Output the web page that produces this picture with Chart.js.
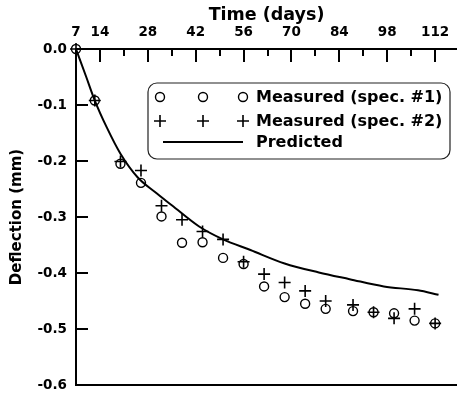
<!DOCTYPE html>
<html><head><meta charset="utf-8">
<script src="https://cdn.jsdelivr.net/npm/chart.js@4/dist/chart.umd.min.js"></script>
<style>html,body{margin:0;padding:0;background:#fff;overflow:hidden}#wrap{width:457px;height:394px;position:relative}</style>
</head><body><div id="wrap"><canvas id="c" width="457" height="394"></canvas></div>
<script>
// ---- data ----
const daysMeasured = [7,12.5,20,26,32,38,44,50,56,62,68,74,80,88,94,100,106,112];
const spec1 = [0,-0.092,-0.205,-0.239,-0.299,-0.346,-0.345,-0.373,-0.384,-0.424,-0.443,-0.455,-0.464,-0.468,-0.470,-0.472,-0.485,-0.490];
const spec2 = [0,-0.092,-0.201,-0.217,-0.280,-0.305,-0.326,-0.340,-0.380,-0.402,-0.417,-0.432,-0.450,-0.457,-0.470,-0.481,-0.464,-0.490];
const daysPredicted = [7,10,12.5,16,20,25,30,35,43,50,58,68,78,87,97,107,113];
const predicted = [0,-0.050,-0.092,-0.140,-0.187,-0.229,-0.255,-0.279,-0.317,-0.340,-0.359,-0.383,-0.399,-0.411,-0.424,-0.431,-0.439];
const xTickValues = [7,14,21,28,35,42,49,56,63,70,77,84,91,98,105,112];
const xLabelled = [7,14,28,42,56,70,84,98,112];
const yTickValues = [0,-0.1,-0.2,-0.3,-0.4,-0.5,-0.6];
const seriesLabels = ['Measured (spec. #1)','Measured (spec. #2)','Predicted'];
const xTitle = 'Time (days)';
const yTitle = 'Deflection (mm)';

const FONT = "'DejaVu Sans'";
const pts = (xs, ys) => xs.map((x,i)=>({x, y: ys[i]}));

const decor = {
  id: 'decor',
  afterDraw(chart) {
    const ctx = chart.ctx;
    const a = chart.chartArea;
    const xs = chart.scales.x, ys = chart.scales.y;
    ctx.save();
    ctx.fillStyle = '#000';
    // bottom frame line
    ctx.fillRect(a.left - 1, a.bottom - 1, a.right - a.left + 1, 2);
    // x ticks (inward, downward; long at labelled values)
    for (const v of xTickValues) {
      if (v === 7) continue;
      const px = Math.round(xs.getPixelForValue(v));
      const len = (v % 14 === 0) ? 13 : 7;
      ctx.fillRect(px - 1, a.top, 2, len);
    }
    // y ticks (inward, rightward)
    for (const v of yTickValues) {
      if (v === 0 || v === -0.6) continue;
      const py = Math.round(ys.getPixelForValue(v));
      ctx.fillRect(a.left, py - 1, 12, 2);
    }

    // legend
    const L = 148, T = 83, R = 450, B = 159, r = 9;
    ctx.lineWidth = 1.2;
    ctx.strokeStyle = '#222';
    ctx.beginPath();
    if (ctx.roundRect) ctx.roundRect(L, T, R - L, B - T, r); else ctx.rect(L, T, R - L, B - T);
    ctx.stroke();
    const rows = [97, 121, 142];
    const sx = [160, 203, 243];
    ctx.lineWidth = 1.4;
    ctx.strokeStyle = '#000';
    sx.forEach(cx => { ctx.beginPath(); ctx.arc(cx, rows[0], 4.5, 0, Math.PI*2); ctx.stroke(); });
    ctx.lineWidth = 1.6;
    sx.forEach(cx => { ctx.beginPath(); ctx.moveTo(cx-6, rows[1]); ctx.lineTo(cx+6, rows[1]); ctx.moveTo(cx, rows[1]-6); ctx.lineTo(cx, rows[1]+6); ctx.stroke(); });
    ctx.lineWidth = 2;
    ctx.beginPath(); ctx.moveTo(163, rows[2]); ctx.lineTo(243, rows[2]); ctx.stroke();
    ctx.fillStyle = '#000';
    ctx.font = "bold 16px " + FONT;
    ctx.textBaseline = 'middle';
    ctx.textAlign = 'left';
    seriesLabels.forEach((t, i) => ctx.fillText(t, 256, rows[i] + 1));
    ctx.restore();
  }
};

new Chart(document.getElementById('c'), {
  type: 'scatter',
  data: {
    datasets: [
      { label: seriesLabels[0], data: pts(daysMeasured, spec1), showLine: false, clip: false,
        pointStyle: 'circle', pointRadius: 4.5, borderColor: '#000', backgroundColor: 'rgba(0,0,0,0)', borderWidth: 1.4 },
      { label: seriesLabels[1], data: pts(daysMeasured, spec2), showLine: false, clip: false,
        pointStyle: 'cross', pointRadius: 6, borderColor: '#000', backgroundColor: '#000', borderWidth: 1.6 },
      { label: seriesLabels[2], data: pts(daysPredicted, predicted), showLine: true, clip: false,
        pointRadius: 0, borderColor: '#000', borderWidth: 2, cubicInterpolationMode: 'monotone', fill: false }
    ]
  },
  options: {
    responsive: false,
    animation: false,
    devicePixelRatio: 1,
    layout: { autoPadding: false, padding: { top: 0, left: 0, right: 0, bottom: 9 } },
    plugins: { legend: { display: false }, tooltip: { enabled: false } },
    scales: {
      x: {
        type: 'linear', position: 'top', min: 7, max: 118.4,
        afterFit: s => { s.height = 49; s.paddingLeft = 0; s.paddingRight = 0; },
        afterBuildTicks: s => { s.ticks = xLabelled.map(v => ({ value: v })); },
        grid: { display: false, drawTicks: false },
        border: { display: true, color: '#000', width: 2 },
        ticks: { padding: 8, color: '#000', font: { family: FONT, weight: 'bold', size: 13.5 }, maxRotation: 0, autoSkip: false,
                 callback: v => String(v) },
        title: { display: true, text: xTitle, color: '#000', padding: { top: 5, bottom: 0 },
                 font: { family: FONT, weight: 'bold', size: 17.5 } }
      },
      y: {
        type: 'linear', position: 'left', min: -0.6, max: 0,
        afterFit: s => { s.width = 76; s.paddingTop = 0; s.paddingBottom = 0; },
        afterBuildTicks: s => { s.ticks = yTickValues.map(v => ({ value: v })); },
        grid: { display: false, drawTicks: false },
        border: { display: true, color: '#000', width: 2 },
        ticks: { padding: 9, color: '#000', font: { family: FONT, weight: 'bold', size: 13.5 }, autoSkip: false,
                 callback: v => (Math.abs(v) < 1e-9 ? '0.0' : Number(v).toFixed(1)) },
        title: { display: true, text: yTitle, color: '#000', padding: { top: 8, bottom: 0 },
                 font: { family: FONT, weight: 'bold', size: 15 } }
      }
    }
  },
  plugins: [decor]
});
</script>
</body></html>
